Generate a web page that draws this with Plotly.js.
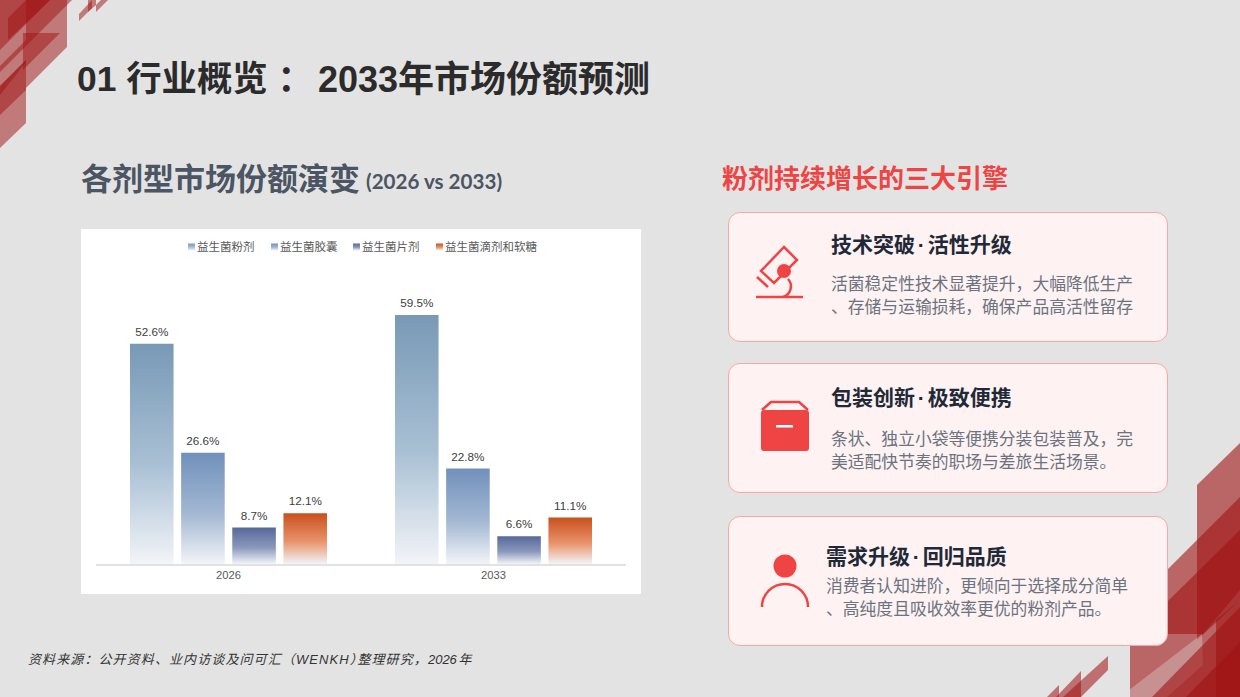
<!DOCTYPE html>
<html lang="zh"><head><meta charset="utf-8">
<script src="https://cdn.plot.ly/plotly-3.0.1.min.js"></script>
<style>
html,body{margin:0;padding:0;width:1240px;height:697px;overflow:hidden;background:#e3e3e3;font-family:"Liberation Sans","Noto Sans CJK SC",sans-serif}
#deco{position:absolute;left:0;top:0}
.t{position:absolute;white-space:nowrap;line-height:1}
.card{position:absolute;left:727.5px;width:438px;height:128px;background:#fef2f2;border:1.5px solid #fca5a5;border-radius:12px}
.ct{font-weight:700;font-size:21px;color:#1f2937;word-spacing:-3px}
.cd{font-size:16.8px;color:#6b7280}
#chart{position:absolute;left:81px;top:229px;width:560px;height:365px}
</style></head><body>
<svg id="deco" width="1240" height="697" xmlns="http://www.w3.org/2000/svg">
 <g fill="#a01212" fill-opacity=".5">
  <polygon points="0,148 26,123 26,60 0,86"/>
  <polygon points="26,88 67,47 67,0 26,0"/>
  <polygon points="0,115 26,90 26,60 0,86"/>
  <polygon points="0,72 72,0 0,0"/>
  <polygon points="0,50 50,0 0,0"/>
  <polygon points="8,40 8,18 26,0 50,0"/>
  <polygon points="23,70 60,33 23,33"/>
  <polygon points="0,95 26,62 26,40 0,66"/>
  <polygon points="79,14 79,21 92,8 92,0"/>
  <polygon points="96,5 96,12 108,0 101,0"/>
  <polygon points="88,0 96,0 96,5 88,12"/>
 </g>
 <g fill="#a01212" fill-opacity=".6">
  <polygon points="1197,485 1240,443 1240,543 1197,587"/>
  <polygon points="1130,697 1130,607 1240,497 1240,697"/>
  <polygon points="1168,601 1240,530 1240,590 1203,634 1168,634"/>
  <polygon points="1197,587 1240,543 1240,600 1197,640"/>
 </g>
 <polygon points="1120,697 1202,634 1203,665 1167,697" fill="#e3e3e3" fill-opacity=".35"/>
 <g fill="#a01212" fill-opacity=".6">
  <polygon points="1152,697 1240,607 1240,697"/>
  <polygon points="1186,697 1240,642 1240,697"/>
  <polygon points="1216,620 1240,600 1240,697 1216,697"/>
 </g>
 <g fill="#a01212" fill-opacity=".55">
  <polygon points="1108,656 1108,670 1081,697 1063,697"/>
  <polygon points="1081,671 1081,697 1056,697"/>
  <polygon points="1059,685 1059,697 1047,697"/>
 </g>
</svg>

<div class="t" style="left:77px;top:62px;font-size:35.4px;font-weight:700;color:#2b2b2b">01 行业概览 ：</div>
<div class="t" style="left:318px;top:62px;font-size:36px;font-weight:700;color:#2b2b2b">2033年市场份额预测</div>
<div class="t" style="left:81px;top:164px;font-size:31px;font-weight:700;color:#4b5563">各剂型市场份额演变</div>
<div class="t" style="left:366px;top:171px;font-size:20.6px;font-weight:700;color:#4b5563;font-family:'Lato','Noto Sans CJK SC'">(2026 vs 2033)</div>
<div class="t" style="left:722px;top:166px;font-size:26px;font-weight:700;color:#ef4444">粉剂持续增长的三大引擎</div>

<div class="card" style="top:212px"></div>
<div class="card" style="top:363px"></div>
<div class="card" style="top:516px"></div>

<div class="t ct" style="left:831px;top:234px">技术突破 · 活性升级</div>
<div class="t cd" style="left:831px;top:277px">活菌稳定性技术显著提升，大幅降低生产</div>
<div class="t cd" style="left:831px;top:300px">、存储与运输损耗，确保产品高活性留存</div>
<div class="t ct" style="left:831px;top:387px">包装创新 · 极致便携</div>
<div class="t cd" style="left:831px;top:432px">条状、独立小袋等便携分装包装普及，完</div>
<div class="t cd" style="left:831px;top:455px">美适配快节奏的职场与差旅生活场景。</div>
<div class="t ct" style="left:826px;top:546px">需求升级 · 回归品质</div>
<div class="t cd" style="left:826px;top:579px">消费者认知进阶，更倾向于选择成分简单</div>
<div class="t cd" style="left:826px;top:602px">、高纯度且吸收效率更优的粉剂产品。</div>

<svg style="position:absolute;left:0;top:0;pointer-events:none" width="1240" height="697" xmlns="http://www.w3.org/2000/svg">
 <g fill="none" stroke="#ef4444" stroke-width="2.5">
  <polygon points="784,247 797,260 774,283 761,271"/>
  <line x1="757" y1="277" x2="768" y2="287"/>
  <line x1="756" y1="297" x2="803" y2="297"/>
  <path d="M788 279 A11 11 0 0 1 783 297"/>
  <path d="M762 607 A23 23 0 0 1 808 607"/>
  <path d="M762 410 L771 402 H799 L808 410" stroke-linejoin="round"/>
 </g>
 <circle cx="784" cy="271" r="7" fill="#ef4444"/>
 <circle cx="785" cy="566" r="11.5" fill="#ef4444"/>
 <rect x="761" y="410" width="48" height="41" rx="3" fill="#ef4444"/>
 <rect x="776" y="425" width="17" height="2.5" fill="#fff"/>
</svg>

<div class="t" style="left:28px;top:653px;font-size:13px;font-style:italic;color:#333;letter-spacing:1.1px">资料来源：公开资料、业内访谈及问可汇（WENKH<span style="font-feature-settings:'halt'">）</span>整理研究，<span style="letter-spacing:0">2026</span><span style="font-size:2px"> </span>年</div>

<div id="chart"></div>
<script>
const years = ['2026', '2033'];
const powder = [52.6, 59.5];
const capsule = [26.6, 22.8];
const tablet = [8.7, 6.6];
const drops = [12.1, 11.1];
const seriesNames = ['益生菌粉剂', '益生菌胶囊', '益生菌片剂', '益生菌滴剂和软糖'];
const seriesValues = [powder, capsule, tablet, drops];
const topColors = ['#7899b6', '#7090bb', '#56699b', '#c9501d'];
const midColors = ['#a9c0d4', '#a3b8d3', '#8a98bb', '#e8926a'];
const legendMarkerLeft = [107, 190, 272, 355];
const font = '"Liberation Sans","Noto Sans CJK SC",sans-serif';

const traces = seriesNames.map((n, i) => ({
  type: 'bar', name: n, x: years, y: seriesValues[i],
  marker: {color: topColors[i]},
  text: seriesValues[i].map(v => v.toFixed(1) + '%'),
  textposition: 'outside', cliponaxis: false,
  textfont: {family: font, size: 11.7, color: '#404040'},
  hoverinfo: 'skip'
}));
const layout = {
  width: 560, height: 365, paper_bgcolor: '#fff', plot_bgcolor: '#fff',
  margin: {l: 14.5, r: 14.5, t: 10, b: 30},
  barmode: 'group', bargap: 0.228, bargroupgap: 0.148,
  font: {family: font, size: 11, color: '#595959'},
  xaxis: {type: 'category', showline: true, linecolor: '#e2e2e2', linewidth: 1.5,
          ticks: '', tickfont: {family: font, size: 11.2, color: '#595959'}, showgrid: false, zeroline: false},
  yaxis: {range: [0, 75.95], visible: false, showgrid: false, zeroline: false},
  legend: {orientation: 'h', xanchor: 'center', x: 0.5, yanchor: 'middle', y: 0.975,
           font: {family: font, size: 11.5, color: '#595959'}, itemclick: false, itemdoubleclick: false},
  showlegend: true
};
Plotly.newPlot('chart', traces, layout, {staticPlot: true, displayModeBar: false}).then(gd => {
  const ns = 'http://www.w3.org/2000/svg';
  const svg = gd.querySelector('svg.main-svg');
  const defs = document.createElementNS(ns, 'defs');
  topColors.forEach((c, i) => {
    const g = document.createElementNS(ns, 'linearGradient');
    g.id = 'grad' + i; g.setAttribute('x1', 0); g.setAttribute('y1', 0); g.setAttribute('x2', 0); g.setAttribute('y2', 1);
    [[0, c], [0.55, midColors[i]], [1, '#f2f4f8']].forEach(s => {
      const st = document.createElementNS(ns, 'stop');
      st.setAttribute('offset', s[0]); st.setAttribute('stop-color', s[1]); g.appendChild(st);
    });
    defs.appendChild(g);
  });
  svg.insertBefore(defs, svg.firstChild);
  gd.querySelectorAll('.barlayer .trace').forEach((tr, i) => {
    tr.querySelectorAll('.point path').forEach(p => { p.style.fill = 'url(#grad' + i + ')'; });
    tr.querySelectorAll('.point text').forEach(t => {
      t.setAttribute('transform', 'translate(0,-3) ' + (t.getAttribute('transform') || ''));
    });
  });
  const box = gd.getBoundingClientRect();
  const legendEl = gd.querySelector('.legend');
  if (legendEl) {
    legendEl.setAttribute('transform', (legendEl.getAttribute('transform') || '') + ' translate(0,-7)');
  }
  gd.querySelectorAll('.legend .traces').forEach((tr, i) => {
    const p = tr.querySelector('.legendpoints path');
    const txt = tr.querySelector('.legendtext');
    if (p) {
      p.style.fill = 'url(#grad' + i + ')';
      p.setAttribute('d', 'M3.5,3.5H-3.5V-3.5H3.5Z');
      const dx = legendMarkerLeft[i] - (p.getBoundingClientRect().left - box.left);
      p.setAttribute('transform', (p.getAttribute('transform') || '') + ' translate(' + dx + ',0)');
    }
    if (txt) {
      const dt = legendMarkerLeft[i] + 9 - (txt.getBoundingClientRect().left - box.left);
      txt.setAttribute('transform', 'translate(' + dt + ',0)');
    }
  });
});
</script>
</body></html>
